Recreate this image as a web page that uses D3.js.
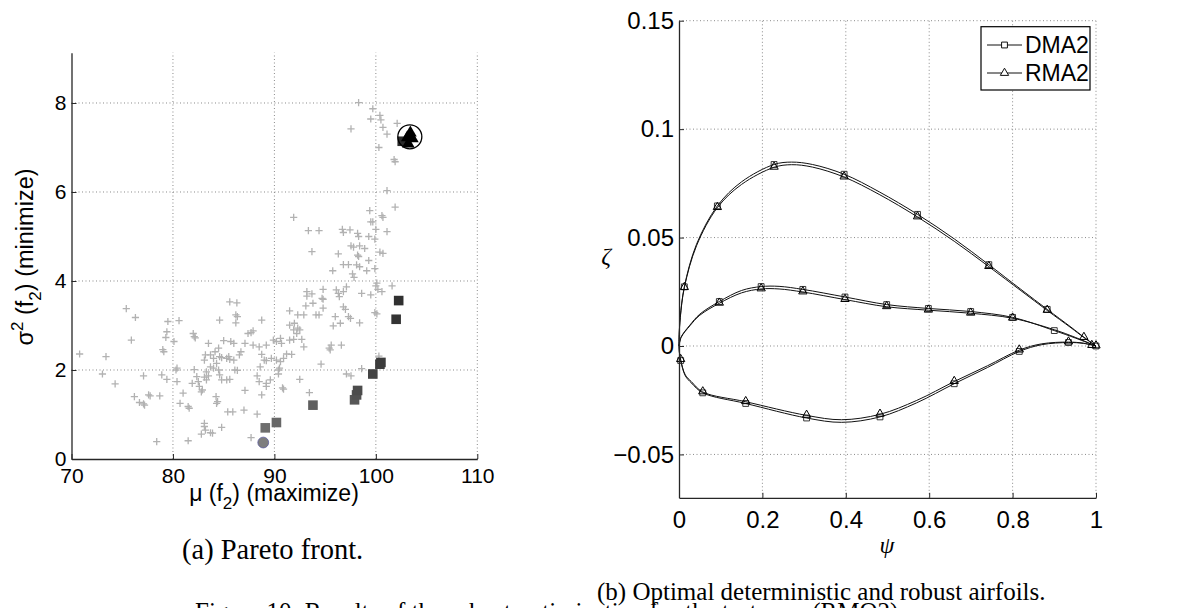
<!DOCTYPE html>
<html>
<head>
<meta charset="utf-8">
<script src="https://cdn.jsdelivr.net/npm/d3@7"></script>
<style>
  body { margin: 0; background: #fff; }
  svg { display: block; }
  .tick text { font-family: "Liberation Sans", Arial, sans-serif; fill: #000; }
</style>
</head>
<body>
<svg id="fig" width="1179" height="608"></svg>
<script>
// ---------- (a) Pareto front: evaluated candidates [mu(f2), sigma^2(f2)] ----------
const candidates = [
  [98.3,8.01],[99.7,7.87],[99.5,7.64],[100.4,7.72],[100.5,7.62],[97.55,7.42],[100.7,7.45],
  [101.1,7.30],[102.1,7.54],[100.3,7.0],[101.8,6.73],[101.9,6.68],[101.1,6.03],[101.9,5.66],
  [91.9,5.43],[100.6,5.47],[100.7,5.43],[99.4,5.58],[99.5,5.33],[99.7,5.33],[100.0,5.16],
  [93.35,5.13],[94.4,5.13],[96.7,5.16],[96.8,5.09],[97.45,5.15],[98.2,5.07],[101.1,5.11],
  [99.3,5.0],[99.9,4.94],[98.3,5.0],[97.55,4.79],[97.8,4.76],[98.4,4.79],[98.9,4.73],
  [93.7,4.66],[100.4,4.65],[100.7,4.62],[98.2,4.58],[98.3,4.55],[96.3,4.61],[99.3,4.46],
  [96.8,4.37],[97.3,4.37],[98.1,4.36],[98.4,4.32],[99.9,4.28],[99.1,4.23],[95.75,4.23],
  [97.7,4.16],[97.85,4.08],[100.1,3.95],[100.0,3.89],[101.6,3.89],[100.2,3.81],[100.6,3.76],
  [94.8,3.81],[93.2,3.76],[97.1,3.87],[96.1,3.80],[96.3,3.72],[96.8,3.76],[98.6,3.72],
  [99.5,3.69],[93.2,3.66],[93.7,3.71],[94.7,3.61],[94.8,3.59],[96.4,3.65],[93.8,3.50],
  [93.1,3.44],[94.8,3.39],[96.8,3.42],[97.0,3.36],[99.9,3.29],[100.1,3.26],[91.5,3.33],
  [94.1,3.24],[94.4,3.24],[92.3,3.24],[92.9,3.24],[97.3,3.20],[97.5,3.16],[96.0,3.20],
  [98.4,3.06],[96.5,3.05],[95.8,2.99],[86.3,3.51],[85.6,3.53],[84.6,3.12],[86.2,3.06],
  [86.2,3.24],[86.35,3.20],[88.75,3.12],[91.5,3.01],[91.97,3.05],[92.3,2.94],[75.4,3.38],
  [76.3,3.18],[75.9,2.67],[79.5,3.09],[80.6,3.11],[79.4,2.86],[79.3,2.73],[80.1,2.64],
  [70.8,2.36],[73.4,2.30],[73.05,1.91],[74.3,1.69],[79.0,2.46],[79.1,2.41],[82.0,2.82],
  [82.1,2.75],[82.2,2.72],[83.5,2.60],[85.0,2.66],[85.7,2.64],[86.0,2.60],[84.15,2.41],
  [84.5,2.49],[83.1,2.22],[83.2,2.34],[83.7,2.34],[84.0,2.26],[84.6,2.30],[84.8,2.28],
  [85.3,2.26],[85.5,2.30],[85.6,2.24],[86.0,2.22],[86.7,2.41],[86.55,2.34],[87.4,2.82],
  [87.7,2.84],[87.9,2.88],[87.1,2.60],[87.9,2.56],[88.5,2.52],[89.2,2.56],[88.75,2.35],
  [89.2,2.21],[89.9,2.67],[90.2,2.64],[90.6,2.71],[90.7,2.60],[89.7,2.26],[90.2,2.22],
  [90.6,2.19],[90.9,2.26],[91.2,2.36],[91.7,2.35],[91.9,2.90],[92.2,2.82],[92.5,2.90],
  [91.5,2.67],[91.9,2.69],[92.7,2.69],[92.9,2.52],[90.5,2.04],[90.4,2.0],[90.8,1.60],
  [88.6,2.07],[89.0,2.22],[89.6,1.78],[90.4,1.91],[92.5,1.79],[94.6,2.13],[95.6,2.56],
  [95.5,2.45],[95.4,2.49],[96.6,2.56],[97.1,1.91],[97.55,1.87],[98.6,2.03],[100.3,2.31],
  [80.3,2.0],[80.4,2.04],[80.4,1.74],[80.7,1.25],[81.6,1.14],[81.5,1.18],[81.0,1.48],
  [82.1,2.01],[81.9,1.70],[82.35,1.85],[82.5,1.74],[82.6,1.63],[82.8,1.51],[82.9,1.55],
  [83.1,1.84],[83.3,1.78],[83.5,1.87],[83.3,1.96],[83.7,2.07],[84.0,2.04],[84.3,2.15],
  [84.5,2.0],[84.6,1.89],[84.8,1.78],[84.25,1.40],[84.4,1.29],[84.3,1.25],[85.3,1.78],
  [85.6,1.79],[86.1,2.0],[86.35,1.99],[87.1,1.54],[85.4,1.06],[85.9,1.06],[87.0,1.10],
  [88.3,1.01],[87.7,0.48],[81.5,0.41],[78.4,0.39],[83.1,0.80],[83.1,0.73],[82.8,0.56],
  [83.2,0.65],[83.7,0.59],[83.9,0.58],[84.8,0.71],[76.7,1.27],[77.1,1.24],[77.2,1.21],
  [77.6,1.44],[77.75,1.42],[78.7,1.42],[78.9,1.89],[79.4,1.79],[77.1,1.87],[76.2,1.40],
  [89.2,1.70],[89.2,1.63],[88.3,1.87],[88.5,1.74],[88.75,1.44],[90.9,1.57],[93.45,1.49]
];

// Pareto-optimal designs (filled squares), with their grey level
const paretoMu   = [89.1, 90.2, 93.8, 97.9, 98.1, 98.2, 99.7, 100.4, 100.5, 102.0, 102.25, 102.6];
const paretoVar  = [0.70, 0.82, 1.21, 1.33, 1.44, 1.54, 1.91, 2.13, 2.17, 3.14, 3.56, 7.14];
const paretoTone = ["#6e6e6e","#676767","#5f5f5f","#585858","#525252","#4c4c4c","#444444","#3e3e3e","#3c3c3c","#343434","#303030","#2a2a2a"];

// Deterministic optimum (grey dot) and robust optima (black triangles)
const detOptimum = [88.9, 0.37];
const robustMu   = [103.4, 103.1, 103.6, 103.2];
const robustVar  = [7.33, 7.22, 7.20, 7.08];
const robustPick = [103.35, 7.24];

const muTicks  = [70, 80, 90, 100, 110];
const varTicks = [0, 2, 4, 6, 8];

// ---------- (b) Airfoil geometry: [psi, zeta] ----------
const dma2Upper = [[0,0],[0.0005,0.0054],[0.003,0.0132],[0.0128,0.0273],[0.042,0.0469],[0.092,0.0646],[0.15,0.0757],[0.228,0.0837],[0.27,0.0848],[0.32,0.0837],[0.396,0.0792],[0.48,0.0711],[0.572,0.0607],[0.66,0.0494],[0.743,0.0375],[0.82,0.0261],[0.883,0.0169],[0.94,0.0087],[0.971,0.0041],[1,0]];
const rma2Upper = [[0,0],[0.0005,0.0054],[0.003,0.0130],[0.0128,0.0269],[0.042,0.0462],[0.092,0.0638],[0.15,0.0745],[0.228,0.0824],[0.27,0.0836],[0.32,0.0825],[0.396,0.0779],[0.48,0.0699],[0.572,0.0595],[0.66,0.0483],[0.743,0.0366],[0.82,0.0255],[0.883,0.0164],[0.94,0.0084],[0.971,0.0039],[1,0]];
const dma2Camber = [[0,0],[0.005,0.0041],[0.026,0.0096],[0.05,0.0147],[0.0967,0.0205],[0.15,0.0256],[0.197,0.0274],[0.24,0.0275],[0.297,0.0261],[0.398,0.0226],[0.498,0.0191],[0.598,0.0173],[0.6995,0.0159],[0.80,0.0132],[0.90,0.0071],[0.95,0.0037],[1,0]];
const rma2Camber = [[0,0],[0.005,0.0039],[0.026,0.0093],[0.05,0.0142],[0.0967,0.0197],[0.15,0.0245],[0.197,0.0263],[0.24,0.0263],[0.297,0.0249],[0.398,0.0214],[0.498,0.0181],[0.598,0.0165],[0.6995,0.0151],[0.80,0.0128],[0.90,0.0075],[0.95,0.0040],[1,0]];
const dma2Lower = [[0,0],[0.001,-0.0031],[0.004,-0.0067],[0.015,-0.0137],[0.03,-0.0171],[0.057,-0.0216],[0.16,-0.0265],[0.306,-0.0332],[0.39,-0.0352],[0.482,-0.0327],[0.57,-0.0262],[0.66,-0.0174],[0.74,-0.0099],[0.816,-0.0025],[0.87,0.0006],[0.934,0.0016],[0.97,0.0012],[1,0]];
const rma2Lower = [[0,0],[0.001,-0.0029],[0.004,-0.0063],[0.015,-0.0133],[0.03,-0.0165],[0.057,-0.0212],[0.16,-0.0257],[0.306,-0.0320],[0.39,-0.0340],[0.482,-0.0315],[0.57,-0.0251],[0.66,-0.0164],[0.74,-0.0091],[0.816,-0.0019],[0.87,0.0010],[0.934,0.0018],[0.97,0.0013],[1,0]];

// marker stations along each surface
const dma2Marks = [[0.0128,0.0273],[0.092,0.0646],[0.228,0.0837],[0.396,0.0792],[0.572,0.0607],[0.743,0.0375],[0.883,0.0169],[1,0],
  [0.0967,0.0205],[0.197,0.0274],[0.297,0.0261],[0.398,0.0226],[0.498,0.0191],[0.598,0.0173],[0.6995,0.0159],[0.80,0.0132],[0.90,0.0071],
  [0.004,-0.0067],[0.057,-0.0216],[0.16,-0.0265],[0.306,-0.0332],[0.482,-0.0327],[0.66,-0.0174],[0.816,-0.0025],[0.934,0.0016]];
const rma2Marks = [[0.0128,0.0269],[0.092,0.0638],[0.228,0.0824],[0.396,0.0779],[0.572,0.0595],[0.743,0.0366],[0.883,0.0164],[0.971,0.0039],[1,0],
  [0.0967,0.0197],[0.197,0.0263],[0.297,0.0249],[0.398,0.0214],[0.498,0.0181],[0.598,0.0165],[0.6995,0.0151],[0.80,0.0128],
  [0.004,-0.0063],[0.057,-0.0212],[0.16,-0.0257],[0.306,-0.0320],[0.482,-0.0315],[0.66,-0.0164],[0.816,-0.0019],[0.934,0.0018],[0.99,0.0002]];

const psiTicks  = [0, 0.2, 0.4, 0.6, 0.8, 1];
const zetaTicks = [-0.05, 0, 0.05, 0.1, 0.15];
const seriesNames = ["DMA2", "RMA2"];

// ------------------------------------------------------------------
const svg = d3.select("#fig");
const sans = '"Liberation Sans", Arial, sans-serif';
const serif = '"Liberation Serif", "Times New Roman", serif';

function gridLines(g, x, y, xTicks, yTicks) {
  const [x0, x1] = x.range(), [y0, y1] = y.range();
  g.append("g").selectAll("line").data(xTicks).join("line")
    .attr("x1", d => x(d)).attr("x2", d => x(d)).attr("y1", y0).attr("y2", y1);
  g.append("g").selectAll("line").data(yTicks).join("line")
    .attr("y1", d => y(d)).attr("y2", d => y(d)).attr("x1", x0).attr("x2", x1);
  g.selectAll("line").attr("stroke", "#8a8a8a").attr("stroke-width", 1)
    .attr("stroke-dasharray", "1,2.5");
}

function styleAxis(g, size) {
  g.select(".domain").attr("stroke", "#262626").attr("stroke-width", 1.3);
  g.selectAll(".tick line").attr("stroke", "#262626");
  g.selectAll(".tick text").attr("font-size", size).attr("font-family", sans);
}

// ================= (a) Pareto front =================
const xA = d3.scaleLinear([70, 110], [71.5, 477.3]);
const yA = d3.scaleLinear([0, 9.13], [459, 52.7]);
const gA = svg.append("g");

gridLines(gA.append("g"), xA, yA, muTicks.slice(1), varTicks.slice(1));

gA.append("g").selectAll("path").data(candidates).join("path")
  .attr("transform", d => `translate(${xA(d[0])},${yA(d[1])})`)
  .attr("d", "M-3.6,0H3.6M0,-3.6V3.6")
  .attr("stroke", "#b2b2b2").attr("stroke-width", 1.3).attr("fill", "none");

gA.append("g").selectAll("rect").data(d3.range(paretoMu.length)).join("rect")
  .attr("x", i => xA(paretoMu[i]) - 4.8).attr("y", i => yA(paretoVar[i]) - 4.8)
  .attr("width", 9.6).attr("height", 9.6)
  .attr("fill", i => paretoTone[i]);

gA.append("circle")
  .attr("cx", xA(detOptimum[0])).attr("cy", yA(detOptimum[1])).attr("r", 5.4)
  .attr("fill", "#7e7e7e").attr("stroke", "#5a5a9a").attr("stroke-width", 0.8);

gA.append("g").selectAll("path").data(d3.range(robustMu.length)).join("path")
  .attr("transform", i => `translate(${xA(robustMu[i])},${yA(robustVar[i])})`)
  .attr("d", d3.symbol(d3.symbolTriangle, 70)())
  .attr("fill", "#000");

gA.append("circle")
  .attr("cx", xA(robustPick[0])).attr("cy", yA(robustPick[1])).attr("r", 12)
  .attr("fill", "none").attr("stroke", "#000").attr("stroke-width", 1.3);

const axA_x = gA.append("g").attr("transform", `translate(0,${yA(0)})`)
  .call(d3.axisBottom(xA).tickValues(muTicks).tickFormat(d3.format("d"))
    .tickSizeInner(-5).tickSizeOuter(0).tickPadding(9));
styleAxis(axA_x, 21);
const axA_y = gA.append("g").attr("transform", `translate(${xA(70)},0)`)
  .call(d3.axisLeft(yA).tickValues(varTicks).tickFormat(d3.format("d"))
    .tickSizeInner(-5).tickSizeOuter(0).tickPadding(5));
styleAxis(axA_y, 21);

// axis titles
const xtA = gA.append("text").attr("x", 274).attr("y", 501)
  .attr("text-anchor", "middle").attr("font-family", sans).attr("font-size", 23);
xtA.append("tspan").text("μ (f");
xtA.append("tspan").attr("dy", 8).attr("font-size", 17).text("2");
xtA.append("tspan").attr("dy", -8).text(") (maximize)");

const ytA = gA.append("text").attr("transform", "translate(33,257) rotate(-90)")
  .attr("text-anchor", "middle").attr("font-family", sans).attr("font-size", 23.5);
ytA.append("tspan").text("σ");
ytA.append("tspan").attr("dy", -10).attr("font-size", 17).text("2");
ytA.append("tspan").attr("dy", 10).text(" (f");
ytA.append("tspan").attr("dy", 8).attr("font-size", 17).text("2");
ytA.append("tspan").attr("dy", -8).text(") (minimize)");

svg.append("text").attr("x", 182).attr("y", 559)
  .attr("font-family", serif).attr("font-size", 28.5).text("(a) Pareto front.");

// ================= (b) Airfoils =================
const xB = d3.scaleLinear([0, 1], [679, 1096]);
const yB = d3.scaleLinear([-0.07, 0.15], [497.8, 20.7]);
const gB = svg.append("g");

gridLines(gB.append("g"), xB, yB, psiTicks.slice(1), zetaTicks);

const line = d3.line().x(d => xB(d[0])).y(d => yB(d[1])).curve(d3.curveCatmullRom.alpha(0.5));
const surfaces = [dma2Upper, rma2Upper, dma2Camber, rma2Camber, dma2Lower, rma2Lower];
gB.append("g").selectAll("path").data(surfaces).join("path")
  .attr("d", line).attr("fill", "none").attr("stroke", "#111").attr("stroke-width", 1);

const sq = d3.symbol(d3.symbolSquare, 34)();
const tri = d3.symbol(d3.symbolTriangle, 30)();
gB.append("g").selectAll("path").data(dma2Marks).join("path")
  .attr("transform", d => `translate(${xB(d[0])},${yB(d[1])})`)
  .attr("d", sq).attr("fill", "none").attr("stroke", "#222").attr("stroke-width", 0.9);
gB.append("g").selectAll("path").data(rma2Marks).join("path")
  .attr("transform", d => `translate(${xB(d[0])},${yB(d[1]) - 0.5})`)
  .attr("d", tri).attr("fill", "none").attr("stroke", "#000").attr("stroke-width", 1);

const fmtZ = d => d === 0 ? "0" : String(+d.toFixed(2)).replace("-", "\u2212");
const axB_x = gB.append("g").attr("transform", `translate(0,${yB(-0.07)})`)
  .call(d3.axisBottom(xB).tickValues(psiTicks).tickFormat(d => String(+d.toFixed(1)))
    .tickSizeInner(-5).tickSizeOuter(0).tickPadding(13));
styleAxis(axB_x, 24);
const axB_y = gB.append("g").attr("transform", `translate(${xB(0)},0)`)
  .call(d3.axisLeft(yB).tickValues(zetaTicks).tickFormat(fmtZ)
    .tickSizeInner(-5).tickSizeOuter(0).tickPadding(5));
styleAxis(axB_y, 24);

gB.append("text").attr("x", 606).attr("y", 264).attr("text-anchor", "middle")
  .attr("font-family", serif).attr("font-style", "italic").attr("font-size", 24).text("ζ");
gB.append("text").attr("x", 887).attr("y", 553).attr("text-anchor", "middle")
  .attr("font-family", serif).attr("font-style", "italic").attr("font-size", 24).text("ψ");

// legend
const lg = gB.append("g");
lg.append("rect").attr("x", 981).attr("y", 26.7).attr("width", 109).attr("height", 63.3)
  .attr("fill", "#fff").attr("stroke", "#000").attr("stroke-width", 1.2);
const legRows = lg.selectAll("g").data(seriesNames).join("g")
  .attr("transform", (d, i) => `translate(0,${45 + i * 28})`);
legRows.append("line").attr("x1", 987).attr("x2", 1022).attr("stroke", "#111");
legRows.append("path").attr("transform", "translate(1004.5,0)")
  .attr("d", (d, i) => i === 0 ? sq : tri).attr("fill", "#fff").attr("stroke", "#111");
legRows.append("text").attr("x", 1025).attr("dy", "0.36em")
  .attr("font-family", sans).attr("font-size", 23).text(d => d);

svg.append("text").attr("x", 597).attr("y", 600)
  .attr("font-family", serif).attr("font-size", 25).text("(b) Optimal deterministic and robust airfoils.");

// figure caption (runs below the visible area)
svg.append("text").attr("x", 195).attr("y", 620)
  .attr("font-family", serif).attr("font-size", 25)
  .text("Figure 10: Results of the robust optimization for the test case (RMO2).");
</script>
</body>
</html>
